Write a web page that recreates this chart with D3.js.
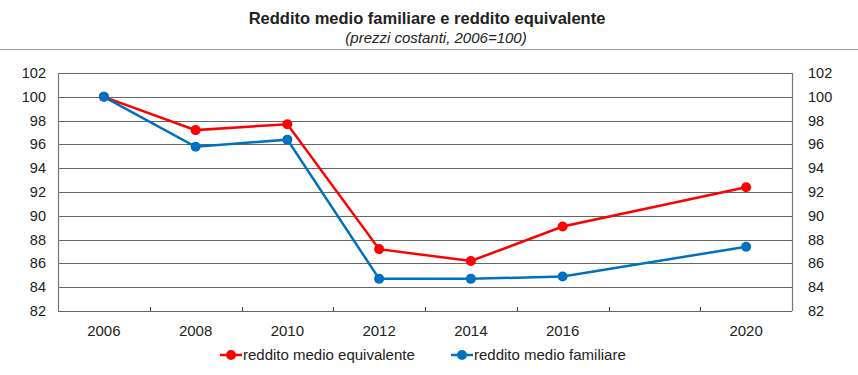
<!DOCTYPE html>
<html>
<head>
<meta charset="utf-8">
<script src="https://cdn.jsdelivr.net/npm/d3@7"></script>
<style>
  body { margin: 0; background: #fff; }
  svg text { font-family: "Liberation Sans", Arial, sans-serif; fill: #222; }
</style>
</head>
<body>
<div id="chart"></div>
<script>
// data
const years = ["2006", "2008", "2010", "2012", "2014", "2016", "2018", "2020"];
const yearLabels = ["2006", "2008", "2010", "2012", "2014", "2016", "", "2020"];
const redditoEquivalente = [100, 97.2, 97.7, 87.2, 86.2, 89.1, null, 92.4];
const redditoFamiliare = [100, 95.8, 96.4, 84.7, 84.7, 84.9, null, 87.4];
const yTicks = [82, 84, 86, 88, 90, 92, 94, 96, 98, 100, 102];

const series = [
  { name: "reddito medio equivalente", color: "#ff0000", values: redditoEquivalente },
  { name: "reddito medio familiare", color: "#0070c0", values: redditoFamiliare }
];

const W = 858, H = 375;
const m = { top: 73, right: 66, bottom: 64, left: 58 };

const svg = d3.select("#chart").append("svg")
  .attr("width", W).attr("height", H);

// title
svg.append("text").attr("x", 427).attr("y", 24)
  .attr("text-anchor", "middle").attr("font-size", 16.5).attr("font-weight", "bold")
  .text("Reddito medio familiare e reddito equivalente");
svg.append("text").attr("x", 436).attr("y", 43)
  .attr("text-anchor", "middle").attr("font-size", 15).attr("font-style", "italic")
  .text("(prezzi costanti, 2006=100)");
svg.append("line").attr("x1", 0).attr("x2", W).attr("y1", 49.5).attr("y2", 49.5)
  .attr("stroke", "#999").attr("stroke-width", 1);

const x = d3.scaleBand().domain(years).range([m.left, W - m.right]);
const y = d3.scaleLinear().domain([82, 102]).range([H - m.bottom, m.top]);

// gridlines
svg.append("g").selectAll("line").data(yTicks).join("line")
  .attr("x1", m.left).attr("x2", W - m.right)
  .attr("y1", d => Math.round(y(d)) + 0.5).attr("y2", d => Math.round(y(d)) + 0.5)
  .attr("stroke", "#666").attr("stroke-width", 1.2);

// side borders
svg.append("line").attr("x1", m.left + 0.5).attr("x2", m.left + 0.5)
  .attr("y1", y(102)).attr("y2", y(82)).attr("stroke", "#777").attr("stroke-width", 1.2);
svg.append("line").attr("x1", W - m.right + 0.5).attr("x2", W - m.right + 0.5)
  .attr("y1", y(102)).attr("y2", y(82)).attr("stroke", "#777").attr("stroke-width", 1.2);

// category ticks between bands
svg.append("g").selectAll("line").data(years.slice(1)).join("line")
  .attr("x1", d => Math.round(x(d)) + 0.5).attr("x2", d => Math.round(x(d)) + 0.5)
  .attr("y1", y(82)).attr("y2", y(82) - 4)
  .attr("stroke", "#444");

// y labels left and right
svg.append("g").selectAll("text").data(yTicks).join("text")
  .attr("x", m.left - 12).attr("y", d => y(d) + 5)
  .attr("text-anchor", "end").attr("font-size", 14.5).text(d => d);
svg.append("g").selectAll("text").data(yTicks).join("text")
  .attr("x", W - m.right + 16).attr("y", d => y(d) + 5)
  .attr("text-anchor", "start").attr("font-size", 14.5).text(d => d);

// x labels
svg.append("g").selectAll("text").data(years).join("text")
  .attr("x", d => x(d) + x.bandwidth() / 2).attr("y", 336)
  .attr("text-anchor", "middle").attr("font-size", 15)
  .text((d, i) => yearLabels[i]);

// lines
const line = d3.line()
  .defined(d => d.v != null)
  .x(d => x(d.year) + x.bandwidth() / 2)
  .y(d => y(d.v));

series.forEach(s => {
  const pts = years.map((yr, i) => ({ year: yr, v: s.values[i] })).filter(d => d.v != null);
  svg.append("path").datum(pts)
    .attr("fill", "none").attr("stroke", s.color).attr("stroke-width", 2.5)
    .attr("d", line);
  svg.append("g").selectAll("circle").data(pts).join("circle")
    .attr("cx", d => x(d.year) + x.bandwidth() / 2).attr("cy", d => y(d.v))
    .attr("r", 5).attr("fill", s.color);
});

// legend
const legendX = [220, 451];
series.forEach((s, i) => {
  const g = svg.append("g").attr("transform", `translate(${legendX[i]},355)`);
  g.append("line").attr("x1", 0).attr("x2", 22).attr("stroke", s.color).attr("stroke-width", 2.5);
  g.append("circle").attr("cx", 11).attr("r", 5).attr("fill", s.color);
  g.append("text").attr("x", 23).attr("y", 5).attr("font-size", 15).text(s.name);
});
</script>
</body>
</html>
